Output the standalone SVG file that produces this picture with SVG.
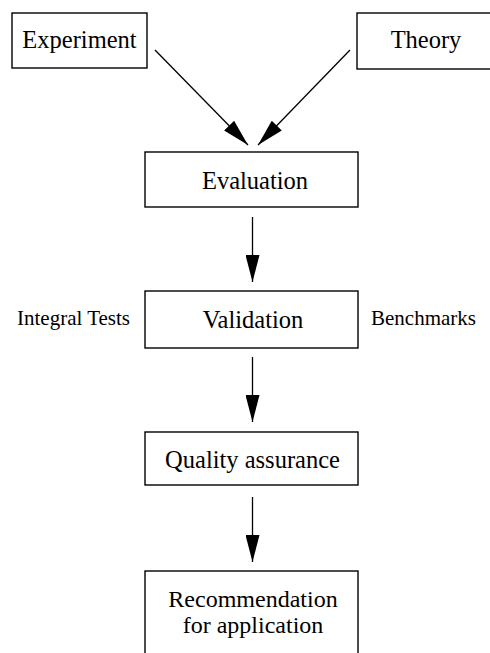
<svg xmlns="http://www.w3.org/2000/svg" width="490" height="653" viewBox="0 0 490 653">
<style>
.box{fill:#fff;stroke:#000;stroke-width:1.4}
.t{font-family:"Liberation Serif","Times New Roman",serif;font-size:24.5px;fill:#000;text-anchor:middle}
.s{font-family:"Liberation Serif","Times New Roman",serif;font-size:21px;fill:#000}
.c{stroke:#000;stroke-width:1.3;fill:none}
</style>
<defs>
<marker id="ah" markerUnits="userSpaceOnUse" markerWidth="28" markerHeight="14" refX="27" refY="7" orient="auto">
<path d="M0,0 L27,7 L0,14 Z" fill="#000"/>
</marker>
</defs>
<rect width="490" height="653" fill="#fff"/>
<g id="experiment"><rect class="box" x="12" y="13" width="135" height="55"/><text class="t" x="79.5" y="48">Experiment</text></g>
<g id="theory"><rect class="box" x="357" y="13" width="140" height="56"/><text class="t" x="426" y="48">Theory</text></g>
<g id="evaluation"><rect class="box" x="145" y="152" width="213" height="55"/><text class="t" x="255" y="189">Evaluation</text></g>
<g id="validation"><rect class="box" x="145" y="291" width="213" height="57"/><text class="t" x="253" y="328">Validation</text></g>
<g id="integral-tests"><text class="s" x="17" y="325">Integral Tests</text></g>
<g id="benchmarks"><text class="s" x="371" y="325">Benchmarks</text></g>
<g id="quality-assurance"><rect class="box" x="145" y="432" width="213" height="53"/><text class="t" x="252.5" y="468">Quality assurance</text></g>
<g id="recommendation"><rect class="box" x="145" y="571" width="213" height="90"/><text class="t" x="253" y="607" style="font-size:24px">Recommendation</text><text class="t" x="253" y="633" style="font-size:24px">for application</text></g>
<g id="connectors">
<line class="c" x1="155" y1="50" x2="248" y2="145" marker-end="url(#ah)"/>
<line class="c" x1="350" y1="50" x2="258" y2="145" marker-end="url(#ah)"/>
<line class="c" x1="252.5" y1="217" x2="252.5" y2="282" marker-end="url(#ah)"/>
<line class="c" x1="252.5" y1="357" x2="252.5" y2="422" marker-end="url(#ah)"/>
<line class="c" x1="252.5" y1="497" x2="252.5" y2="562" marker-end="url(#ah)"/>
</g>
</svg>
